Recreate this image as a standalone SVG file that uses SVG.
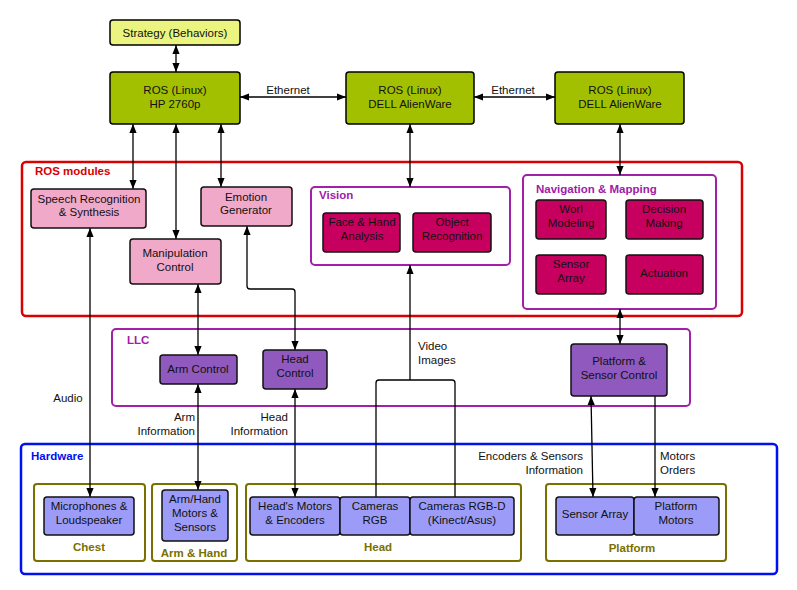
<svg xmlns="http://www.w3.org/2000/svg" width="797" height="590" viewBox="0 0 797 590">
<defs>
<marker id="a" viewBox="0 0 10 10" refX="10" refY="5" markerWidth="7" markerHeight="7" orient="auto-start-reverse"><path d="M0,1 L10,5 L0,9 Z" fill="#000"/></marker>
<style>
text{font-family:"Liberation Sans",Arial,sans-serif;font-size:11.5px;fill:#111;text-anchor:middle}
.ros{fill:#a2c000;stroke:#000;stroke-width:1.5}
.str{fill:#eaf47f;stroke:#000;stroke-width:1.5}
.pk{fill:#f1a9c9;stroke:#111;stroke-width:1.5}
.mg{fill:#c7005f;stroke:#111;stroke-width:1.5}
.pu{fill:#8f59bd;stroke:#111;stroke-width:1.5}
.hw{fill:#9c9cf8;stroke:#111;stroke-width:1.5}
.grp{fill:none;stroke-width:2.5}
.ol{fill:none;stroke:#7a7000;stroke-width:2}
.ln{fill:none;stroke:#000;stroke-width:1.3}
.t1{font-weight:bold;text-anchor:start}
.ot{fill:#7a7000;font-weight:bold}
</style>
</defs>
<rect width="797" height="590" fill="#fff"/>
<g id="groups">
<rect x="22" y="162" width="720" height="154" rx="4" class="grp" stroke="#d80000"/>
<text x="35" y="175" class="t1" style="fill:#d80000">ROS modules</text>
<rect x="311" y="187" width="199" height="78" rx="4" class="grp" stroke="#a020a8" style="stroke-width:2"/>
<text x="319" y="199" class="t1" style="fill:#a020a8">Vision</text>
<rect x="523" y="175" width="193" height="134" rx="4" class="grp" stroke="#a020a8" style="stroke-width:2"/>
<text x="536" y="193" class="t1" style="fill:#a020a8">Navigation &amp; Mapping</text>
<rect x="112" y="329" width="578" height="77" rx="4" class="grp" stroke="#a020a8" style="stroke-width:2"/>
<text x="127" y="344" class="t1" style="fill:#a020a8">LLC</text>
<rect x="21" y="444" width="756" height="130" rx="4" class="grp" stroke="#0010f0"/>
<text x="31" y="460" class="t1" style="fill:#0010f0">Hardware</text>
<rect x="34" y="484" width="111" height="77" rx="3" class="ol"/>
<text x="89" y="551" class="ot">Chest</text>
<rect x="152" y="484" width="85" height="77" rx="3" class="ol"/>
<text x="194" y="557" class="ot">Arm &amp; Hand</text>
<rect x="246" y="484" width="275" height="77" rx="3" class="ol"/>
<text x="378" y="551" class="ot">Head</text>
<rect x="546" y="484" width="180" height="77" rx="3" class="ol"/>
<text x="632" y="552" class="ot">Platform</text>
</g>
<g id="connectors">
<line x1="176" y1="45" x2="176" y2="72" class="ln" marker-start="url(#a)" marker-end="url(#a)"/>
<line x1="240" y1="97" x2="346" y2="97" class="ln" marker-start="url(#a)" marker-end="url(#a)"/>
<line x1="474" y1="97" x2="555" y2="97" class="ln" marker-start="url(#a)" marker-end="url(#a)"/>
<line x1="133" y1="124" x2="133" y2="189" class="ln" marker-start="url(#a)" marker-end="url(#a)"/>
<line x1="176" y1="124" x2="176" y2="239" class="ln" marker-start="url(#a)" marker-end="url(#a)"/>
<line x1="221" y1="124" x2="221" y2="187" class="ln" marker-start="url(#a)" marker-end="url(#a)"/>
<line x1="410" y1="124" x2="410" y2="187" class="ln" marker-start="url(#a)" marker-end="url(#a)"/>
<line x1="620" y1="124" x2="620" y2="175" class="ln" marker-start="url(#a)" marker-end="url(#a)"/>
<line x1="90" y1="228" x2="90" y2="497" class="ln" marker-start="url(#a)" marker-end="url(#a)"/>
<line x1="198" y1="284" x2="198" y2="355" class="ln" marker-start="url(#a)" marker-end="url(#a)"/>
<line x1="198" y1="384" x2="198" y2="490" class="ln" marker-start="url(#a)" marker-end="url(#a)"/>
<path d="M247,226 V286 Q247,289 250,289 H292 Q295,289 295,292 V350" class="ln" marker-start="url(#a)" marker-end="url(#a)"/>
<line x1="295" y1="389" x2="295" y2="497" class="ln" marker-start="url(#a)" marker-end="url(#a)"/>
<line x1="410" y1="380" x2="410" y2="265" class="ln" marker-end="url(#a)"/>
<path d="M376,497 V383 Q376,380 379,380 H452 Q455,380 455,383 V497" class="ln"/>
<line x1="620" y1="309" x2="620" y2="344" class="ln" marker-start="url(#a)" marker-end="url(#a)"/>
<line x1="591" y1="396" x2="593" y2="497" class="ln" marker-start="url(#a)" marker-end="url(#a)"/>
<line x1="655" y1="396" x2="655" y2="497" class="ln" marker-end="url(#a)"/>
<text x="288" y="94">Ethernet</text>
<text x="513" y="94">Ethernet</text>
<text x="68" y="402">Audio</text>
<text x="195" y="421" style="text-anchor:end">Arm</text>
<text x="195" y="435" style="text-anchor:end">Information</text>
<text x="288" y="421" style="text-anchor:end">Head</text>
<text x="288" y="435" style="text-anchor:end">Information</text>
<text x="418" y="350" style="text-anchor:start">Video</text>
<text x="418" y="364" style="text-anchor:start">Images</text>
<text x="583" y="460" style="text-anchor:end">Encoders &amp; Sensors</text>
<text x="583" y="474" style="text-anchor:end">Information</text>
<text x="660" y="460" style="text-anchor:start">Motors</text>
<text x="660" y="474" style="text-anchor:start">Orders</text>
</g>
<g id="strategy"><rect x="110" y="20" width="130" height="25" rx="3" class="str"/><text x="175" y="37">Strategy (Behaviors)</text></g>
<g id="ros-hp"><rect x="110" y="72" width="130" height="52" rx="3" class="ros"/><text x="175" y="94">ROS (Linux)</text><text x="175" y="108">HP 2760p</text></g>
<g id="ros-dell1"><rect x="346" y="72" width="128" height="52" rx="3" class="ros"/><text x="410" y="94">ROS (Linux)</text><text x="410" y="108">DELL AlienWare</text></g>
<g id="ros-dell2"><rect x="555" y="72" width="129" height="52" rx="3" class="ros"/><text x="620" y="94">ROS (Linux)</text><text x="620" y="108">DELL AlienWare</text></g>
<g id="speech"><rect x="31" y="189" width="115" height="39" rx="3" class="pk"/><text x="89" y="203">Speech Recognition</text><text x="89" y="216">&amp; Synthesis</text></g>
<g id="emotion"><rect x="201" y="187" width="91" height="39" rx="3" class="pk"/><text x="246" y="201">Emotion</text><text x="246" y="214">Generator</text></g>
<g id="manip"><rect x="130" y="239" width="91" height="45" rx="3" class="pk"/><text x="175" y="257">Manipulation</text><text x="175" y="271">Control</text></g>
<g id="face"><rect x="323" y="213" width="77" height="39" rx="3" class="mg"/><text x="362" y="226">Face &amp; Hand</text><text x="362" y="240">Analysis</text></g>
<g id="object"><rect x="413" y="213" width="78" height="39" rx="3" class="mg"/><text x="452" y="226">Object</text><text x="452" y="240">Recognition</text></g>
<g id="worl"><rect x="536" y="200" width="70" height="39" rx="3" class="mg"/><text x="571" y="213">Worl</text><text x="571" y="227">Modeling</text></g>
<g id="decision"><rect x="626" y="200" width="77" height="39" rx="3" class="mg"/><text x="664" y="213">Decision</text><text x="664" y="227">Making</text></g>
<g id="sensorarr-nav"><rect x="536" y="255" width="70" height="39" rx="3" class="mg"/><text x="571" y="268">Sensor</text><text x="571" y="282">Array</text></g>
<g id="actuation"><rect x="626" y="255" width="77" height="39" rx="3" class="mg"/><text x="664" y="277">Actuation</text></g>
<g id="armctl"><rect x="160" y="355" width="77" height="29" rx="3" class="pu"/><text x="198" y="373">Arm Control</text></g>
<g id="headctl"><rect x="263" y="350" width="64" height="39" rx="3" class="pu"/><text x="295" y="363">Head</text><text x="295" y="377">Control</text></g>
<g id="platctl"><rect x="571" y="344" width="96" height="52" rx="3" class="pu"/><text x="619" y="365">Platform &amp;</text><text x="619" y="379">Sensor Control</text></g>
<g id="mic"><rect x="44" y="497" width="90" height="38" rx="3" class="hw"/><text x="89" y="510">Microphones &amp;</text><text x="89" y="524">Loudspeaker</text></g>
<g id="armhand"><rect x="162" y="490" width="66" height="51" rx="3" class="hw"/><text x="195" y="503">Arm/Hand</text><text x="195" y="517">Motors &amp;</text><text x="195" y="531">Sensors</text></g>
<g id="headmotors"><rect x="250" y="497" width="90" height="38" rx="3" class="hw"/><text x="295" y="510">Head's Motors</text><text x="295" y="524">&amp; Encoders</text></g>
<g id="camrgb"><rect x="340" y="497" width="70" height="38" rx="3" class="hw"/><text x="375" y="510">Cameras</text><text x="375" y="524">RGB</text></g>
<g id="camrgbd"><rect x="410" y="497" width="104" height="38" rx="3" class="hw"/><text x="462" y="510">Cameras RGB-D</text><text x="462" y="524">(Kinect/Asus)</text></g>
<g id="sensorarray"><rect x="556" y="497" width="78" height="38" rx="3" class="hw"/><text x="595" y="518">Sensor Array</text></g>
<g id="platmotors"><rect x="634" y="497" width="85" height="38" rx="3" class="hw"/><text x="676" y="510">Platform</text><text x="676" y="524">Motors</text></g>
</svg>
